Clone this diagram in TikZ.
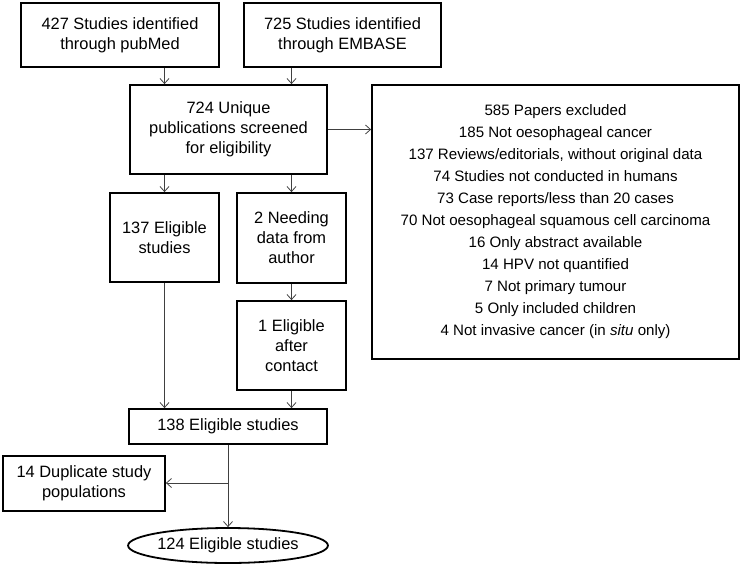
\documentclass[tikz,border=0pt]{standalone}
\usepackage{fontspec}
\setmainfont{Liberation Sans}
\usetikzlibrary{arrows.meta}
\usetikzlibrary{shapes.geometric}

\begin{document}
\begin{tikzpicture}[x=1pt, y=-1pt,
    box/.style={draw, line width=1.8pt, align=center, inner sep=2pt,
        font=\fontsize{16.4}{20}\selectfont},
    flow/.style={draw=black!75, line width=0.8pt, -{Straight Barb[length=5pt, width=9pt]}}]
    \useasboundingbox (0,0) rectangle (743,565);
    % sources
    \node[box, minimum width=198pt, minimum height=64pt] (pub) at (120,35) {427 Studies identified\\through pubMed};
    \node[box, minimum width=197pt, minimum height=64pt] (emb) at (342.5,35) {725 Studies identified\\through EMBASE};
    % screening
    \node[box, minimum width=197pt, minimum height=89pt] (uniq) at (228.5,129.5) {724 Unique\\publications screened\\for eligibility};
    \node[box, minimum width=367pt, minimum height=274pt,
        font=\fontsize{15.1}{22}\selectfont] (excl) at (555.5,222) {585 Papers excluded\\
        185 Not oesophageal cancer\\
        137 Reviews/editorials, without original data\\
        74 Studies not conducted in humans\\
        73 Case reports/less than 20 cases\\
        70 Not oesophageal squamous cell carcinoma\\
        16 Only abstract available\\
        14 HPV not quantified\\
        7 Not primary tumour\\
        5 Only included children\\
        4 Not invasive cancer (in \textit{situ} only)};
    % eligibility
    \node[box, minimum width=109pt, minimum height=89pt] (elig) at (164.5,237.5) {137 Eligible\\studies};
    \node[box, minimum width=109pt, minimum height=90pt] (need) at (291.5,238) {2 Needing\\data from\\author};
    \node[box, minimum width=109pt, minimum height=89pt] (contact) at (291.5,345.5) {1 Eligible\\after\\contact};
    \node[box, minimum width=198pt, minimum height=35pt] (total) at (228,426.5) {138 Eligible studies};
    \node[box, minimum width=162pt, minimum height=55pt] (dup) at (84,483.5) {14 Duplicate study\\populations};
    \node[box, ellipse, minimum width=198pt, minimum height=35pt, inner sep=0pt] (final) at (228,545.5) {124 Eligible studies};
    \coordinate (split) at (228,483);
    % connectors
    \draw[flow] (pub.south -| elig) -- (uniq.north -| elig);
    \draw[flow] (emb.south -| need) -- (uniq.north -| need);
    \draw[flow] (uniq.east) -- (excl.west |- uniq.east);
    \draw[flow] (uniq.south -| elig) -- (elig.north);
    \draw[flow] (uniq.south -| need) -- (need.north);
    \draw[flow] (need.south) -- (contact.north);
    \draw[flow] (elig.south) -- (total.north -| elig);
    \draw[flow] (contact.south) -- (total.north -| contact);
    \draw[flow] (total.south) -- (final.north);
    \draw[flow] (split) -- (dup.east |- split);
\end{tikzpicture}
\end{document}
